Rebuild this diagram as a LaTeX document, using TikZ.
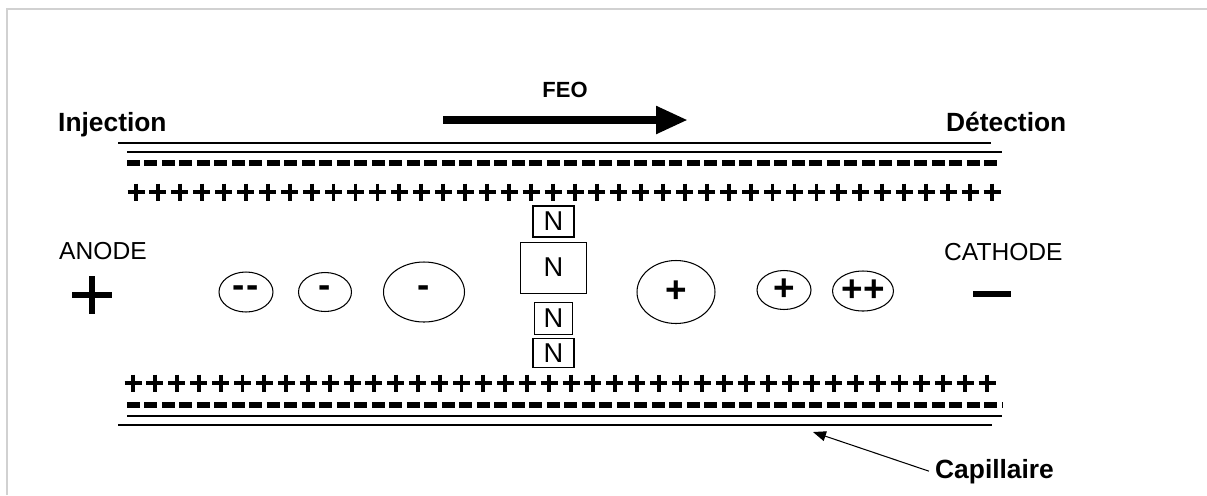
\documentclass[tikz,border=0pt]{standalone}
\usepackage{fontspec}
\setmainfont{Liberation Sans}
\usetikzlibrary{positioning, arrows.meta, shapes.geometric}
\definecolor{cadre}{gray}{0.82}

\tikzset{
  paroi/.style={line width=0.8pt},
  charges/.style={line width=2.2pt},
  tirets/.style={line width=3pt, dash pattern=on 0.26cm off 0.09cm},
  ion/.style={draw, ellipse, line width=0.6pt, inner sep=0pt,
    font=\fontsize{21}{21}\selectfont\bfseries},
  neutre/.style={draw, line width=0.6pt, inner sep=0pt,
    font=\fontsize{15.5}{15.5}\selectfont},
  etiq/.style={font=\fontsize{15}{15}\selectfont\bfseries},
  electrode/.style={font=\fontsize{14}{14}\selectfont},
}

\begin{document}
\begin{tikzpicture}[x=0.02cm, y=-0.02cm]
  \useasboundingbox (0,0) rectangle (1207,495);
  \draw[cadre, line width=1.2pt] (7,495) -- (7,9) -- (1207,9);

  % paroi haute du capillaire
  \draw[paroi] (118,143) -- (991,143);
  \draw[paroi] (127,152) -- (1002,152);
  \draw[tirets] (127,163) -- (1001,163);
  \foreach \i in {0,...,39}
    \draw[charges] ({136+21.95*\i-8.5},192) -- ++(17,0)
                   ({136+21.95*\i},183.5) -- ++(0,17);

  % paroi basse du capillaire
  \foreach \i in {0,...,39}
    \draw[charges] ({133+21.9*\i-8.5},383) -- ++(17,0)
                   ({133+21.9*\i},374.5) -- ++(0,17);
  \draw[tirets] (127,405) -- (1002,405);
  \draw[paroi] (127,416) -- (1002,416);
  \draw[paroi] (118,425) -- (992,425);

  % extremites et flux electro-osmotique
  \node[etiq, anchor=base west] (injection) at (52,131) {Injection};
  \node[etiq, anchor=base west] (detection) at (940,131) {Détection};
  \node[font=\fontsize{12.5}{12.5}\selectfont\bfseries] (feo) at (565,90) {FEO};
  \coordinate (feo-debut) at (443,120);
  \coordinate (feo-fin) at (688,120);
  \draw[line width=5pt, -{Triangle[length=0.64cm, width=0.52cm]}] (feo-debut) -- (feo-fin);

  % electrodes
  \node[electrode, anchor=base west] (anode) at (53,259) {ANODE};
  \node[electrode, anchor=base west] (cathode) at (938,260) {CATHODE};
  \draw[line width=3.2pt] (72,295) -- (112,295) (92,276) -- (92,314);
  \draw[line width=3.4pt] (973,294) -- (1011,294);

  % anions
  \node[ion, minimum width=1.08cm, minimum height=0.8cm] (anion-a) at (246,292) {-\hspace{1pt}-};
  \node[ion, minimum width=1.06cm, minimum height=0.78cm] (anion-b) at (325,292) {-};
  \node[ion, minimum width=1.62cm, minimum height=1.2cm] (anion-c) at (424,292) {-};

  % neutres
  \node[neutre, minimum width=0.82cm, minimum height=0.62cm] (neutre-a) at (553.5,221.5) {N};
  \node[neutre, minimum width=1.32cm, minimum height=1.02cm, below=0.08cm of neutre-a] (neutre-b) {N};
  \node[neutre, minimum width=0.76cm, minimum height=0.64cm, below=0.16cm of neutre-b] (neutre-c) {N};
  \node[neutre, minimum width=0.82cm, minimum height=0.58cm, below=0.06cm of neutre-c] (neutre-d) {N};

  % cations
  \node[ion, minimum width=1.56cm, minimum height=1.26cm] (cation-a) at (676,292) {+};
  \node[ion, minimum width=1.08cm, minimum height=0.78cm] (cation-b) at (784,290) {+};
  \node[ion, minimum width=1.06cm, minimum height=0.8cm] (cation-c) at (863,291) {++};

  % legende
  \node[etiq, anchor=base west] (capillaire) at (929,478) {Capillaire};
  \coordinate (capillaire-cible) at (813,432);
  \draw[line width=0.6pt, -{Triangle[length=0.26cm, width=0.2cm]}] (capillaire.west) -- (capillaire-cible);
\end{tikzpicture}
\end{document}
